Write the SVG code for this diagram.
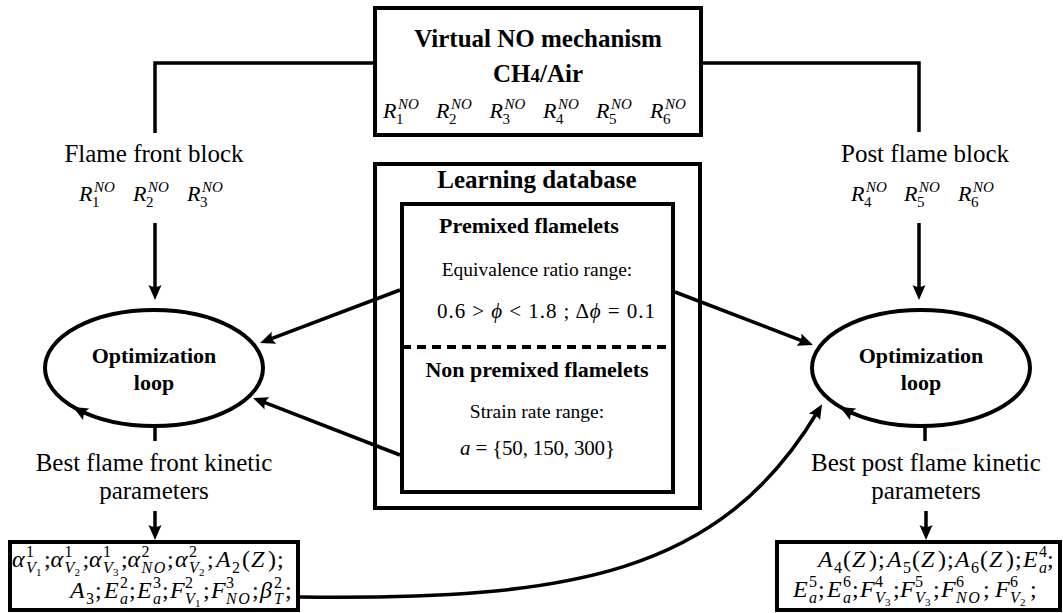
<svg xmlns="http://www.w3.org/2000/svg" xmlns:xlink="http://www.w3.org/1999/xlink" width="1063" height="613" viewBox="0 0 1063 613">
<style>
text{font-family:"Liberation Serif","Times New Roman",serif;fill:#000}
.b25{font-weight:bold;font-size:25px;text-anchor:middle}
.b22{font-weight:bold;font-size:22px;text-anchor:middle}
.r25{font-size:25px;text-anchor:middle}
.r19{font-size:19.5px;text-anchor:middle}
.R{font-style:italic;font-size:22px}
.Rs{font-style:italic;font-size:15px}
.Rd{font-size:15px}
.mi{font-style:italic;font-size:24px}
.mr{font-size:24px}
.si{font-style:italic;font-size:16px}
.sn{font-style:italic;font-size:16px;letter-spacing:1.5px}
.sr{font-size:16px}
.ss{font-size:11px}
.box{fill:none;stroke:#000;stroke-width:4}
.ln{fill:none;stroke:#000;stroke-width:3.5}
.arr{marker-end:url(#ah)}
</style>
<defs>
<path id="ahp" d="M0,0 L-15,-6.5 Q-11,0 -15,6.5 Z" fill="#000"/>
<marker id="ah" viewBox="-16 -8 16 16" markerWidth="16" markerHeight="16" markerUnits="userSpaceOnUse" refX="-8" refY="0" orient="auto">
<path d="M0,0 L-15,-6.5 Q-11,0 -15,6.5 Z" fill="#000"/>
</marker>
</defs>

<g id="connectors">
<path class="ln" d="M373 63 H155 V133"/>
<path class="ln" d="M703 63 H919 V132"/>
<path class="ln arr" d="M155 223 V292"/>
<path class="ln arr" d="M919 223 V292"/>
<path class="ln arr" d="M400 290 L267.5 340.2"/>
<path class="ln arr" d="M400 455 L260.5 400.9"/>
<path class="ln arr" d="M675 292 L805.5 342.1"/>
<path class="ln" d="M155 427 V441"/>
<path class="ln" d="M925 427 V441"/>
<path class="ln arr" d="M155 511 V532"/>
<path class="ln arr" d="M926 511 V532"/>
<path class="ln arr" d="M300 597 C570 600, 720 575, 818 411"/>
</g>

<g id="virtual-no-mechanism">
<rect class="box" x="375" y="8" width="326" height="127"/>
<text class="b25" x="538" y="47">Virtual NO mechanism</text>
<text class="b25" x="538" y="82">CH<tspan font-size="19">4</tspan>/Air</text>
<g>
<text class="R" x="383" y="118">R</text><text class="Rs" x="398" y="109">NO</text><text class="Rd" x="396" y="124">1</text>
<text class="R" x="436" y="118">R</text><text class="Rs" x="451" y="109">NO</text><text class="Rd" x="449" y="124">2</text>
<text class="R" x="489.5" y="118">R</text><text class="Rs" x="504.5" y="109">NO</text><text class="Rd" x="502.5" y="124">3</text>
<text class="R" x="543" y="118">R</text><text class="Rs" x="558" y="109">NO</text><text class="Rd" x="556" y="124">4</text>
<text class="R" x="596" y="118">R</text><text class="Rs" x="611" y="109">NO</text><text class="Rd" x="609" y="124">5</text>
<text class="R" x="650" y="118">R</text><text class="Rs" x="665" y="109">NO</text><text class="Rd" x="663" y="124">6</text>
</g>
</g>

<g id="flame-front-block">
<text class="r25" x="154" y="162">Flame front block</text>
<text class="R" x="79" y="201">R</text><text class="Rs" x="94" y="192">NO</text><text class="Rd" x="92" y="207">1</text>
<text class="R" x="133" y="201">R</text><text class="Rs" x="148" y="192">NO</text><text class="Rd" x="146" y="207">2</text>
<text class="R" x="187" y="201">R</text><text class="Rs" x="202" y="192">NO</text><text class="Rd" x="200" y="207">3</text>
</g>

<g id="post-flame-block">
<text class="r25" x="925" y="162">Post flame block</text>
<text class="R" x="851" y="201">R</text><text class="Rs" x="866" y="192">NO</text><text class="Rd" x="864" y="207">4</text>
<text class="R" x="904" y="201">R</text><text class="Rs" x="919" y="192">NO</text><text class="Rd" x="917" y="207">5</text>
<text class="R" x="958" y="201">R</text><text class="Rs" x="973" y="192">NO</text><text class="Rd" x="971" y="207">6</text>
</g>

<g id="learning-database">
<rect class="box" x="375" y="164" width="325" height="344"/>
<text class="b25" x="537" y="188">Learning database</text>
<rect class="box" x="402" y="204" width="271" height="288"/>
<text class="b22" x="529" y="233">Premixed flamelets</text>
<text class="r19" x="537" y="276">Equivalence ratio range:</text>
<text x="437" y="318" font-size="21" textLength="218" lengthAdjust="spacing">0.6 &gt; <tspan font-style="italic">ϕ</tspan> &lt; 1.8 ; Δ<tspan font-style="italic">ϕ</tspan> = 0.1</text>
<line x1="402" y1="347" x2="673" y2="347" stroke="#000" stroke-width="4" stroke-dasharray="9 6"/>
<text class="b22" x="537" y="377">Non premixed flamelets</text>
<text class="r19" x="537" y="418">Strain rate range:</text>
<text x="460" y="455" font-size="21" textLength="155" lengthAdjust="spacing"><tspan font-style="italic">a</tspan> = {50, 150, 300}</text>
</g>

<g id="optimization-loop-left">
<ellipse class="box" cx="154" cy="368" rx="109" ry="58"/>
<use xlink:href="#ahp" transform="translate(73 407) rotate(208.6)"/>
<text class="b22" x="154" y="363">Optimization</text>
<text class="b22" x="154" y="390">loop</text>
</g>

<g id="optimization-loop-right">
<ellipse class="box" cx="921" cy="368" rx="109" ry="58"/>
<use xlink:href="#ahp" transform="translate(840 407) rotate(208.6)"/>
<text class="b22" x="921" y="363">Optimization</text>
<text class="b22" x="921" y="390">loop</text>
</g>

<g id="best-flame-front">
<text class="r25" x="154" y="471">Best flame front kinetic</text>
<text class="r25" x="154" y="499">parameters</text>
</g>

<g id="best-post-flame">
<text class="r25" x="926" y="471">Best post flame kinetic</text>
<text class="r25" x="926" y="499">parameters</text>
</g>

<g id="flame-front-parameters">
<rect class="box" x="10" y="542" width="288" height="68"/>
<text class="mi" x="12" y="567">α</text><text class="sr" x="26" y="557">1</text><text class="si" x="26" y="573">V</text><text class="ss" x="36" y="576">1</text><text class="mr" x="44" y="567">;</text>
<text class="mi" x="50.5" y="567">α</text><text class="sr" x="64.5" y="557">1</text><text class="si" x="64.5" y="573">V</text><text class="ss" x="74.5" y="576">2</text><text class="mr" x="82.5" y="567">;</text>
<text class="mi" x="89" y="567">α</text><text class="sr" x="103" y="557">1</text><text class="si" x="103" y="573">V</text><text class="ss" x="113" y="576">3</text><text class="mr" x="121" y="567">;</text>
<text class="mi" x="127.5" y="567">α</text><text class="sr" x="141.5" y="557">2</text><text class="sn" x="141.5" y="573">NO</text><text class="mr" x="167" y="567">;</text>
<text class="mi" x="175" y="567">α</text><text class="sr" x="189" y="557">2</text><text class="si" x="189" y="573">V</text><text class="ss" x="199" y="576">2</text><text class="mr" x="207" y="567">;</text>
<text class="mi" x="216" y="567">A</text><text class="sr" x="232" y="573">2</text><text class="mr" x="242" y="567">(</text><text class="mi" x="251" y="567">Z</text><text class="mr" x="268" y="567">)</text><text class="mr" x="277" y="567">;</text>
<text class="mi" x="70" y="598">A</text><text class="sr" x="86" y="604">3</text><text class="mr" x="95" y="598">;</text>
<text class="mi" x="104" y="598">E</text><text class="sr" x="120" y="588">2</text><text class="si" x="120" y="604">a</text><text class="mr" x="129" y="598">;</text>
<text class="mi" x="137" y="598">E</text><text class="sr" x="153" y="588">3</text><text class="si" x="153" y="604">a</text><text class="mr" x="162" y="598">;</text>
<text class="mi" x="170" y="598">F</text><text class="sr" x="185" y="588">2</text><text class="si" x="185" y="604">V</text><text class="ss" x="195" y="607">1</text><text class="mr" x="203" y="598">;</text>
<text class="mi" x="211" y="598">F</text><text class="sr" x="226" y="588">3</text><text class="sn" x="226" y="604">NO</text><text class="mr" x="252" y="598">;</text>
<text class="mi" x="260" y="598">β</text><text class="sr" x="274" y="588">2</text><text class="si" x="274" y="604">T</text><text class="mr" x="285" y="598">;</text>
</g>

<g id="post-flame-parameters">
<rect class="box" x="777" y="542" width="283" height="68"/>
<text class="mi" x="818" y="567">A</text><text class="sr" x="834" y="573">4</text><text class="mr" x="843" y="567">(</text><text class="mi" x="852" y="567">Z</text><text class="mr" x="869" y="567">)</text><text class="mr" x="878" y="567">;</text>
<text class="mi" x="887" y="567">A</text><text class="sr" x="903" y="573">5</text><text class="mr" x="912" y="567">(</text><text class="mi" x="921" y="567">Z</text><text class="mr" x="938" y="567">)</text><text class="mr" x="947" y="567">;</text>
<text class="mi" x="955" y="567">A</text><text class="sr" x="971" y="573">6</text><text class="mr" x="980" y="567">(</text><text class="mi" x="989" y="567">Z</text><text class="mr" x="1006" y="567">)</text><text class="mr" x="1015" y="567">;</text>
<text class="mi" x="1023" y="567">E</text><text class="sr" x="1039" y="557">4</text><text class="si" x="1039" y="573">a</text><text class="mr" x="1047" y="567">;</text>
<text class="mi" x="793" y="597">E</text><text class="sr" x="809" y="587">5</text><text class="si" x="809" y="603">a</text><text class="mr" x="818" y="597">;</text>
<text class="mi" x="827" y="597">E</text><text class="sr" x="843" y="587">6</text><text class="si" x="843" y="603">a</text><text class="mr" x="852" y="597">;</text>
<text class="mi" x="860" y="597">F</text><text class="sr" x="875" y="587">4</text><text class="si" x="875" y="603">V</text><text class="ss" x="885" y="606">3</text><text class="mr" x="893" y="597">;</text>
<text class="mi" x="900" y="597">F</text><text class="sr" x="915" y="587">5</text><text class="si" x="915" y="603">V</text><text class="ss" x="925" y="606">3</text><text class="mr" x="933" y="597">;</text>
<text class="mi" x="941" y="597">F</text><text class="sr" x="956" y="587">6</text><text class="sn" x="956" y="603">NO</text><text class="mr" x="983" y="597">;</text>
<text class="mi" x="995" y="597">F</text><text class="sr" x="1010" y="587">6</text><text class="si" x="1010" y="603">V</text><text class="ss" x="1020" y="606">2</text><text class="mr" x="1030" y="597">;</text>
</g>
</svg>
